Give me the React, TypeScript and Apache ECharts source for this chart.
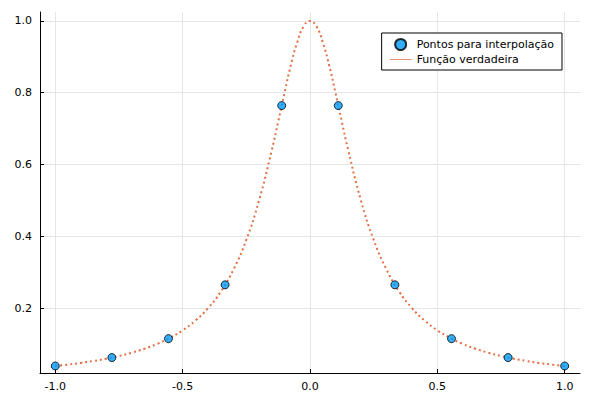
import React, { useEffect, useRef } from "react";
import * as echarts from "echarts";

const pointX = [-1, -0.7778, -0.5556, -0.3333, -0.1111, 0.1111, 0.3333, 0.5556, 0.7778, 1];
const pointY = [0.0385, 0.062, 0.1147, 0.2647, 0.7642, 0.7642, 0.2647, 0.1147, 0.062, 0.0385];

const curveX = [
  -1, -0.95, -0.9, -0.85, -0.8, -0.75, -0.7, -0.65, -0.6, -0.55, -0.5, -0.45, -0.4, -0.35, -0.3,
  -0.25, -0.2, -0.15, -0.125, -0.1, -0.075, -0.05, -0.025, 0, 0.025, 0.05, 0.075, 0.1, 0.125, 0.15,
  0.2, 0.25, 0.3, 0.35, 0.4, 0.45, 0.5, 0.55, 0.6, 0.65, 0.7, 0.75, 0.8, 0.85, 0.9, 0.95, 1,
];
const curveY = [
  0.0385, 0.0424, 0.047, 0.0525, 0.0588, 0.0664, 0.0755, 0.0865, 0.1, 0.117, 0.138, 0.165, 0.2,
  0.246, 0.308, 0.39, 0.5, 0.64, 0.719, 0.8, 0.877, 0.941, 0.985, 1, 0.985, 0.941, 0.877, 0.8, 0.719,
  0.64, 0.5, 0.39, 0.308, 0.246, 0.2, 0.165, 0.138, 0.117, 0.1, 0.0865, 0.0755, 0.0664, 0.0588,
  0.0525, 0.047, 0.0424, 0.0385,
];

const xTicks = [-1, -0.5, 0, 0.5, 1];
const yTicks = [0.2, 0.4, 0.6, 0.8, 1];

export default function App() {
  const ref = useRef<HTMLDivElement>(null);

  useEffect(() => {
    if (!ref.current) return;
    const chart = echarts.init(ref.current, null, { renderer: "svg" });
    const gridLine = { show: true, lineStyle: { color: "#e6e6e6", width: 1 } };
    chart.setOption({
      animation: false,
      textStyle: { fontFamily: "DejaVu Sans" },
      grid: { left: 32, right: 12, top: 4, bottom: 19 },
      legend: {
        right: 30,
        top: 25,
        orient: "vertical",
        backgroundColor: "#fff",
        borderColor: "#000",
        borderWidth: 1,
        borderRadius: 0,
        padding: [5, 8],
        itemGap: 3,
        itemWidth: 22,
        itemHeight: 11,
        textStyle: { fontSize: 11, color: "#000" },
        data: [
          { name: "Pontos para interpolação", icon: "circle" },
          { name: "Função verdadeira", icon: "path://M0,5L30,5L30,6L0,6Z" },
        ],
      },
      xAxis: {
        type: "value",
        min: -1.06,
        max: 1.06,
        axisLine: { show: true, onZero: false, lineStyle: { color: "#000" } },
        axisTick: { show: true, customValues: xTicks, length: 4, inside: true, lineStyle: { color: "#000" } },
        axisLabel: { customValues: xTicks, color: "#000", fontSize: 11, formatter: (v: number) => v.toFixed(1) },
        splitLine: gridLine,
      },
      yAxis: {
        type: "value",
        min: 0.019,
        max: 1.025,
        axisLine: { show: true, onZero: false, lineStyle: { color: "#000" } },
        axisTick: { show: true, customValues: yTicks, length: 4, inside: true, lineStyle: { color: "#000" } },
        axisLabel: { customValues: yTicks, color: "#000", fontSize: 11, formatter: (v: number) => v.toFixed(1) },
        splitLine: gridLine,
      },
      series: [
        {
          name: "Função verdadeira",
          type: "line",
          smooth: true,
          symbol: "none",
          z: 1,
          lineStyle: { color: "#e26f46", width: 2, type: [2, 3] },
          itemStyle: { color: "#e26f46" },
          data: curveX.map((x, i) => [x, curveY[i]]),
        },
        {
          name: "Pontos para interpolação",
          type: "scatter",
          symbolSize: 8,
          z: 3,
          itemStyle: { color: "#009af9", borderColor: "#000", borderWidth: 1 },
          data: pointX.map((x, i) => [x, pointY[i]]),
        },
      ],
    });
    return () => chart.dispose();
  }, []);

  return <div ref={ref} style={{ width: 584, height: 384 }} />;
}
